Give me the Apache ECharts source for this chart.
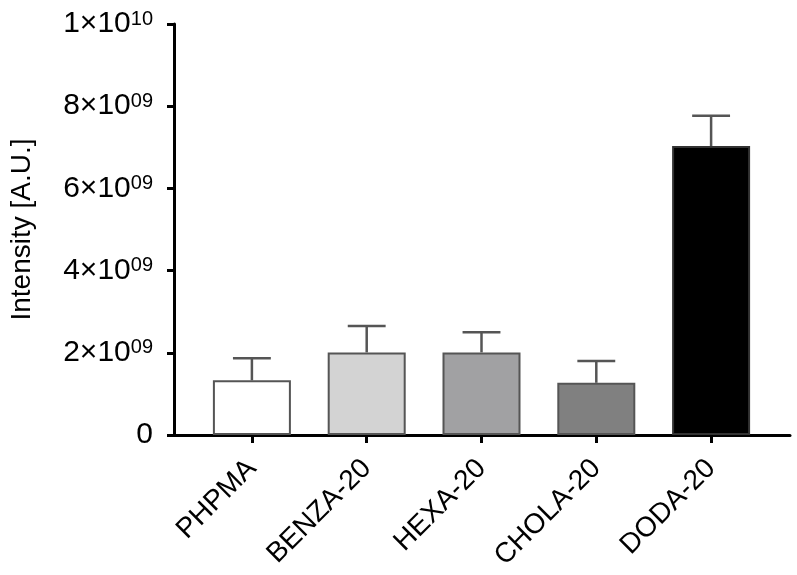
<!DOCTYPE html>
<html>
<head>
<meta charset="utf-8">
<script src="https://cdn.jsdelivr.net/npm/echarts@6/dist/echarts.min.js"></script>
<style>html,body{margin:0;padding:0;background:#fff}#c{width:797px;height:575px}</style>
</head>
<body>
<div id="c"></div>
<script>
const categories = ['PHPMA', 'BENZA-20', 'HEXA-20', 'CHOLA-20', 'DODA-20'];
const means = [1.33e9, 2.01e9, 2.01e9, 1.27e9, 7.03e9];
const errors = [0.54e9, 0.64e9, 0.49e9, 0.53e9, 0.74e9];
const barColors = ['#ffffff', '#d3d3d3', '#a1a1a3', '#808080', '#000000'];
const yTicks = [0, 2e9, 4e9, 6e9, 8e9, 1e10];
const yTickLabels = ['0', '2×10^09', '4×10^09', '6×10^09', '8×10^09', '1×10^10'];

const FONT = 'Liberation Sans, Arial, sans-serif';
const chart = echarts.init(document.getElementById('c'));

function yLabel(v) {
  const i = yTicks.findIndex(t => Math.abs(t - v) < 1);
  if (i < 0) return '';
  const s = yTickLabels[i];
  if (s.indexOf('^') < 0) return '{z|' + s + '}';
  const p = s.split('^');
  return '{b|' + p[0] + '}{s|' + p[1] + '}';
}

chart.setOption({
  animation: false,
  backgroundColor: '#ffffff',
  grid: [
    { left: 193.5, right: 28.5, top: 24, bottom: 140 },
    { left: 173, right: 7, top: 24, bottom: 140 }
  ],
  xAxis: [
    {
      type: 'category', gridIndex: 0, data: categories,
      axisLine: { show: false },
      axisTick: { show: true, alignWithLabel: true, length: 8, lineStyle: { color: '#000', width: 3 } },
      axisLabel: { rotate: 45, margin: 29, color: '#000', fontSize: 28, fontFamily: FONT, interval: 0 },
      splitLine: { show: false }
    },
    {
      type: 'value', gridIndex: 1, min: 0, max: 1,
      axisLine: { show: true, lineStyle: { color: '#000', width: 3 } },
      axisTick: { show: false }, axisLabel: { show: false }, splitLine: { show: false }
    }
  ],
  yAxis: [
    {
      type: 'value', gridIndex: 0, min: 0, max: 1e10, interval: 2e9, offset: 20.5,
      name: 'Intensity [A.U.]', nameLocation: 'middle', nameRotate: 90, nameGap: 138,
      nameTextStyle: { color: '#000', fontSize: 28, fontFamily: FONT },
      axisLine: { show: true, lineStyle: { color: '#000', width: 3 } },
      axisTick: { show: true, length: 7, lineStyle: { color: '#000', width: 3 } },
      axisLabel: {
        margin: 21, color: '#000', fontFamily: FONT,
        formatter: yLabel,
        rich: {
          z: { fontSize: 30, fontFamily: FONT, color: '#000' },
          b: { fontSize: 30, fontFamily: FONT, color: '#000', lineHeight: 30, verticalAlign: 'middle' },
          s: { fontSize: 20, fontFamily: FONT, color: '#000', lineHeight: 20, verticalAlign: 'top' }
        }
      },
      splitLine: { show: false }
    },
    { type: 'value', gridIndex: 1, show: false, min: 0, max: 1 }
  ],
  series: [
    {
      type: 'bar', xAxisIndex: 0, yAxisIndex: 0, barWidth: 78,
      data: means.map((v, i) => ({
        value: v,
        itemStyle: { color: barColors[i], borderColor: i === 4 ? '#333' : '#555', borderWidth: 2 }
      })),
      z: 2
    },
    {
      type: 'custom', xAxisIndex: 0, yAxisIndex: 0, z: 3,
      data: means.map((v, i) => [i, v, v + errors[i]]),
      renderItem: function (params, api) {
        const x = api.value(0);
        const p0 = api.coord([x, api.value(1)]);
        const p1 = api.coord([x, api.value(2)]);
        const half = api.size([1, 0])[0] * 0.165;
        const style = { stroke: '#555', lineWidth: 2.5, fill: null };
        return {
          type: 'group',
          children: [
            { type: 'line', shape: { x1: p0[0], y1: p0[1], x2: p1[0], y2: p1[1] }, style: style },
            { type: 'line', shape: { x1: p1[0] - half, y1: p1[1], x2: p1[0] + half, y2: p1[1] }, style: style }
          ]
        };
      }
    }
  ]
});
</script>
</body>
</html>
